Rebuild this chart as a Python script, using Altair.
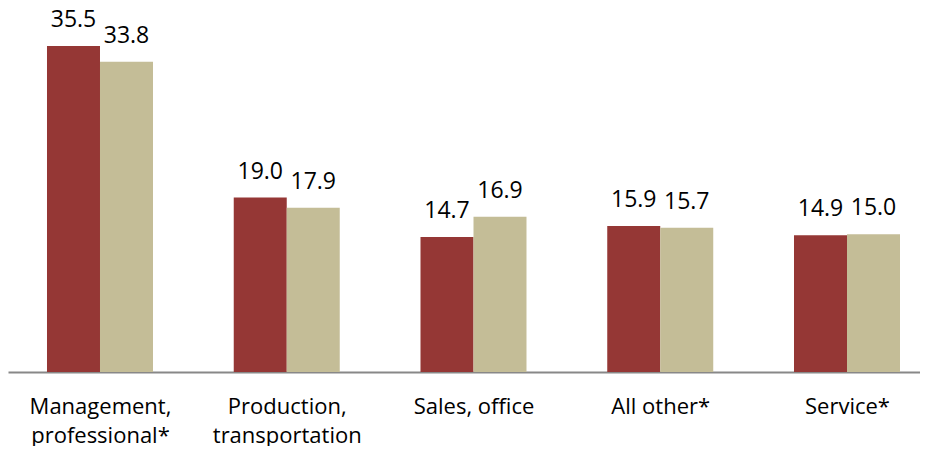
import altair as alt
import pandas as pd

categories = ["Management,|professional*", "Production,|transportation", "Sales, office", "All other*", "Service*"]
series = ["Series A", "Series B"]
values_a = [35.5, 19.0, 14.7, 15.9, 14.9]
values_b = [33.8, 17.9, 16.9, 15.7, 15.0]
colors = ["#953735", "#C4BD97"]

BAR_HALF = 0.2838  # bar width in category units

rows = []
for i, (a, b) in enumerate(zip(values_a, values_b)):
    rows.append({"idx": i, "series": series[0], "value": a, "label": f"{a:.1f}"})
    rows.append({"idx": i, "series": series[1], "value": b, "label": f"{b:.1f}"})
df = pd.DataFrame(rows)

FONT = "Open Sans"

cat_array = "[" + ",".join("'" + c + "'" for c in categories) + "]"

x_scale = alt.Scale(domain=[-0.4926, 4.3909], nice=False, zero=False)
x_axis = alt.Axis(values=[0, 1, 2, 3, 4], labelExpr=f"split({cat_array}[datum.value], '|')",
                  labelFontSize=22, labelFont=FONT, labelColor="#000000",
                  labelLineHeight=29, labelPadding=24, ticks=False, grid=False,
                  domainColor="#888888", domainWidth=2, labelLimit=300, title=None,
                  labelFlush=False, labelOverlap=False)
y_scale = alt.Scale(domain=[0, 39.65], nice=False, zero=True)
y = alt.Y("value:Q", scale=y_scale, axis=None)

base = alt.Chart(df).transform_calculate(
    x0=f"datum.series == '{series[0]}' ? datum.idx - {BAR_HALF} : datum.idx",
    x1=f"datum.series == '{series[0]}' ? datum.idx : datum.idx + {BAR_HALF}",
    xm=f"datum.series == '{series[0]}' ? datum.idx - {BAR_HALF / 2} : datum.idx + {BAR_HALF / 2}",
)
bars = base.mark_bar().encode(
    x=alt.X("x0:Q", scale=x_scale, axis=x_axis),
    x2="x1:Q",
    y=y,
    y2=alt.datum(0),
    color=alt.Color("series:N", sort=series, scale=alt.Scale(domain=series, range=colors), legend=None),
)
text = base.mark_text(font=FONT, fontSize=23, color="#000000", baseline="alphabetic", dy=-19).encode(
    x=alt.X("xm:Q", scale=x_scale), y=y, text="label:N"
)

chart = (bars + text).properties(
    width=912, height=364, padding=0
).configure_view(stroke=None)

chart.save("out.html", embed_options={"renderer": "svg", "actions": False})
